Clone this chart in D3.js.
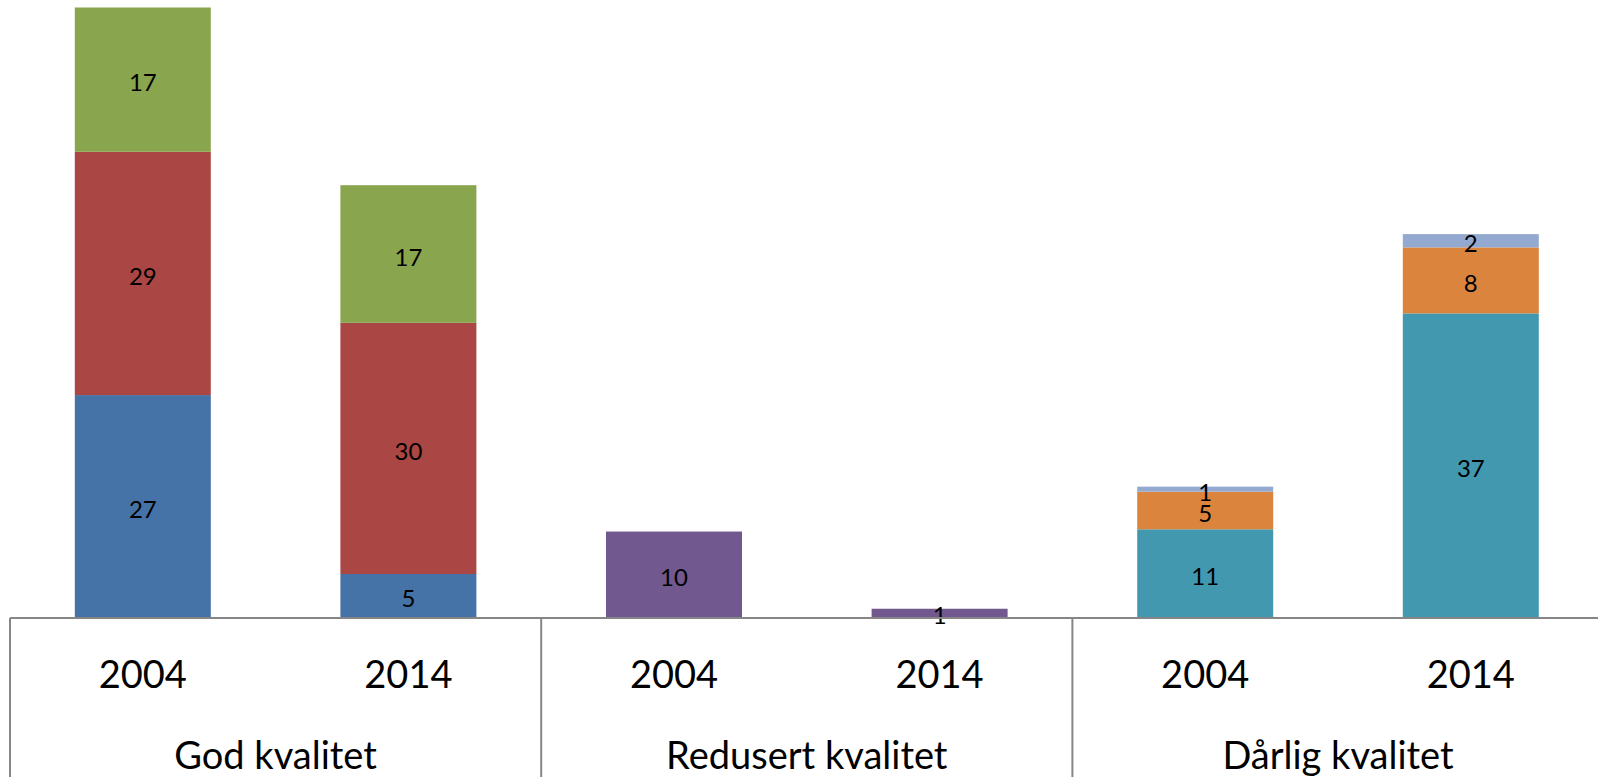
<!DOCTYPE html>
<html><head><meta charset="utf-8">
<script src="https://cdn.jsdelivr.net/npm/d3@7"></script>
<style>body{margin:0;background:#fff;}svg{display:block;}</style>
</head><body>
<svg id="c" width="1598" height="777"></svg>
<script>
const years = ["2004","2014","2004","2014","2004","2014"];
const groups = ["God kvalitet","Redusert kvalitet","Dårlig kvalitet"];
// values (percent of year); labels show them rounded
const seriesA = [26.9, 5.21, 0, 0, 0, 0];    // blue
const seriesB = [29.49, 30.45, 0, 0, 0, 0];  // red
const seriesC = [17.49, 16.68, 0, 0, 0, 0];  // green
const seriesD = [0, 0, 10.36, 1.0, 0, 0];    // purple
const seriesE = [0, 0, 0, 0, 10.63, 36.8];   // teal
const seriesF = [0, 0, 0, 0, 4.56, 8.0];     // orange
const seriesG = [0, 0, 0, 0, 0.61, 1.61];    // light blue
const seriesColors = ["#4572A7","#AA4643","#89A54E","#71588F","#4198AF","#DB843D","#93A9CF"];
const yMax = 74;

const keys = ["A","B","C","D","E","F","G"];
const all = [seriesA,seriesB,seriesC,seriesD,seriesE,seriesF,seriesG];
const rows = years.map((y,i)=>{const r={i}; keys.forEach((k,j)=>r[k]=all[j][i]); return r;});
const stack = d3.stack().keys(keys)(rows);

const svg = d3.select("#c");
const base = 617, left = 10, bandW = 265.6;
const x = d3.scaleBand().domain(d3.range(years.length)).range([left, left+bandW*years.length]).paddingInner(0.488).paddingOuter(0.244);
const y = d3.scaleLinear().domain([0,yMax]).range([base, base - 8.25*yMax]);
const font = "Lato, 'Open Sans', sans-serif";
const fmt = d3.format(".0f");

stack.forEach((s,si)=>{
  const g = svg.append("g");
  s.forEach((d,i)=>{
    if (all[si][i] <= 0) return;
    g.append("rect").attr("x", x(i)).attr("width", x.bandwidth())
      .attr("y", y(d[1])).attr("height", y(d[0])-y(d[1])).attr("fill", seriesColors[si]);
  });
});
stack.forEach((s,si)=>{
  s.forEach((d,i)=>{
    if (all[si][i] <= 0) return;
    svg.append("text").attr("x", x(i)+x.bandwidth()/2).attr("y", (y(d[0])+y(d[1]))/2 + 2)
      .attr("text-anchor","middle").attr("dominant-baseline","central")
      .attr("font-family", font).attr("font-size", 24).attr("fill","#000").text(fmt(all[si][i]));
  });
});

// axis
const ax = svg.append("g").attr("stroke","#868686").attr("stroke-width",2);
ax.append("line").attr("x1", left).attr("x2", 1598).attr("y1", base+1).attr("y2", base+1);
const gw = bandW*2;
for (let k=0;k<=groups.length;k++){
  ax.append("line").attr("x1", left+gw*k).attr("x2", left+gw*k).attr("y1", base+1).attr("y2", 777);
}
years.forEach((t,i)=>{
  svg.append("text").attr("x", x(i)+x.bandwidth()/2).attr("y", 673).attr("text-anchor","middle")
    .attr("dominant-baseline","central").attr("font-family", font).attr("font-size", 38).attr("fill","#000").text(t);
});
groups.forEach((t,k)=>{
  svg.append("text").attr("x", left+gw*k+gw/2).attr("y", 754).attr("text-anchor","middle")
    .attr("dominant-baseline","central").attr("font-family", font).attr("font-size", 38).attr("fill","#000").text(t);
});
</script>
</body></html>
